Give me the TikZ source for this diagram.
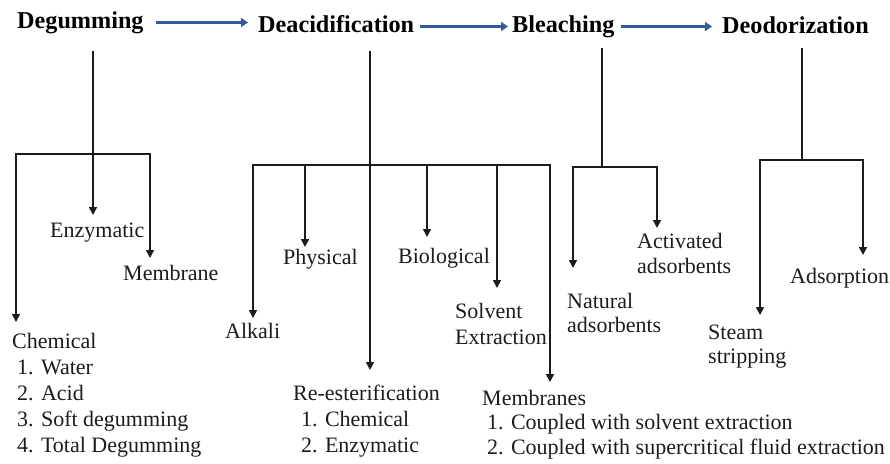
\documentclass[tikz,border=0pt]{standalone}
\usepackage{fontspec}
\setmainfont{Liberation Serif}
\usetikzlibrary{arrows.meta}
\definecolor{flowblue}{RGB}{50,90,158}
\definecolor{ink}{RGB}{28,28,28}
\begin{document}
\begin{tikzpicture}[x=1pt,y=-1pt,
  stage/.style={anchor=base west, inner sep=0pt, text height=17pt, text depth=6pt,
    font=\fontsize{24.2}{29}\selectfont\bfseries},
  leaf/.style={anchor=north west, inner sep=0pt, align=left, text=ink,
    font=\fontsize{22}{26}\selectfont},
  flow/.style={draw=flowblue, line width=3.2pt, -{Triangle[length=7pt,width=9pt]}},
  trunk/.style={draw=ink, line width=1.6pt},
  twig/.style={trunk, -{Triangle[length=8pt,width=8pt]}},
]
\fill[white] (0,0) rectangle (890,463);
\useasboundingbox (0,0) rectangle (890,463);

% refining stages
\node[stage] (degum)  at (17,28)  {Degumming};
\node[stage] (deacid) at (258,32) {Deacidification};
\node[stage] (bleach) at (512,32) {Bleaching};
\node[stage] (deodor) at (722,33) {Deodorization};

\draw[flow, shorten <=12pt, shorten >=10pt] (degum.east)  -- (degum.east -| deacid.west);
\draw[flow, shorten <=6pt,  shorten >=4pt]  (deacid.east) -- (deacid.east -| bleach.west);
\draw[flow, shorten <=6pt,  shorten >=10pt] (bleach.east) -- (bleach.east -| deodor.west);

% methods
\node[leaf] (chem) at (12,333) {Chemical\\\hspace*{5pt}1. Water\\\hspace*{5pt}2. Acid\\\hspace*{5pt}3. Soft degumming\\\hspace*{5pt}4. Total Degumming};
\node[leaf] (enz)  at (50,223)  {Enzymatic};
\node[leaf] (memb) at (123,265) {Membrane};

\node[leaf] (alk)   at (225,323) {Alkali};
\node[leaf] (phys)  at (283,249) {Physical};
\node[leaf] (reest) at (293,385) {Re-esterification\\\hspace*{8pt}1. Chemical\\\hspace*{8pt}2. Enzymatic};
\node[leaf] (bio)   at (398,248) {Biological};
\node[leaf] (solv)  at (455,303) {Solvent\\Extraction};
\node[leaf, font=\fontsize{22}{24.5}\selectfont] (membs) at (482,390)
  {Membranes\\\hspace*{5pt}1. Coupled with solvent extraction\\\hspace*{5pt}2. Coupled with supercritical fluid extraction};

\node[leaf, font=\fontsize{22}{24.5}\selectfont] (nat) at (567,293) {Natural\\adsorbents};
\node[leaf, font=\fontsize{22}{25}\selectfont] (act) at (637,233) {Activated\\adsorbents};

\node[leaf, font=\fontsize{22}{23.5}\selectfont] (steam) at (708,325) {Steam\\stripping};
\node[leaf] (adsorp) at (790,268) {Adsorption};

% degumming branches
\coordinate (dgTop) at (93,51);
\coordinate (dgHub) at (93,154);
\coordinate (dgL) at (16,154);
\coordinate (dgR) at (150,154);
\draw[twig, shorten >=8pt] (dgTop) -- (dgTop |- enz.north);
\draw[twig, shorten >=11pt] (dgHub) -| (dgL |- chem.north);
\draw[twig, shorten >=7pt] (dgHub) -| (dgR |- memb.north);

% deacidification branches
\coordinate (deTop) at (370,51);
\coordinate (deHub) at (370,165);
\coordinate (deL) at (253,165);
\coordinate (deR) at (550,165);
\coordinate (dePhys) at (305,165);
\coordinate (deBio) at (427,165);
\coordinate (deSolv) at (497,165);
\draw[twig, shorten >=15pt] (deTop) -- (deTop |- reest.north);
\draw[twig, shorten >=5pt] (deHub) -| (deL |- alk.north);
\draw[twig, shorten >=8pt] (deHub) -| (deR |- membs.north);
\draw[twig, shorten >=2pt] (dePhys) -- (dePhys |- phys.north);
\draw[twig, shorten >=11pt] (deBio) -- (deBio |- bio.north);
\draw[twig, shorten >=15pt] (deSolv) -- (deSolv |- solv.north);

% bleaching branches
\coordinate (blTop) at (602,48);
\coordinate (blHub) at (602,167);
\coordinate (blL) at (573,167);
\coordinate (blR) at (657,167);
\draw[trunk] (blTop) -- (blHub);
\draw[twig, shorten >=25pt] (blHub) -| (blL |- nat.north);
\draw[twig, shorten >=5pt] (blHub) -| (blR |- act.north);

% deodorization branches
\coordinate (doTop) at (802,48);
\coordinate (doHub) at (802,160);
\coordinate (doL) at (760,160);
\coordinate (doR) at (863,160);
\draw[trunk] (doTop) -- (doHub);
\draw[twig, shorten >=10pt] (doHub) -| (doL |- steam.north);
\draw[twig, shorten >=13pt] (doHub) -| (doR |- adsorp.north);
\end{tikzpicture}
\end{document}
